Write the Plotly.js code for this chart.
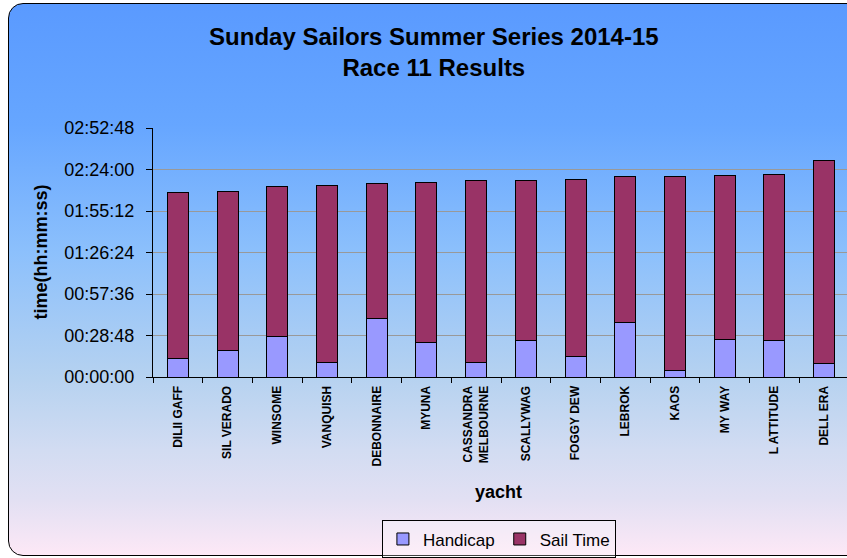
<!DOCTYPE html>
<html>
<head>
<meta charset="utf-8">
<script src="https://cdn.plot.ly/plotly-3.0.1.min.js"></script>
<style>
  html, body { margin:0; padding:0; width:847px; height:558px; overflow:hidden; background:#ffffff; }
  #frame {
    position:absolute; left:8px; top:3px; width:900px; height:553px;
    border:1.5px solid #000; border-radius:15px; box-sizing:border-box;
    background: linear-gradient(to bottom, #5a9aff 0%, #66a6ff 22%, #8cc0fc 45%, #b6d2f0 68%, #d2dcf2 81%, #e2e0f3 90%, #fde8f6 100%);
  }
  #chart { position:absolute; left:0; top:0; width:849px; height:558px; }
</style>
</head>
<body>
<div id="frame"></div>
<div id="chart"></div>
<script>
// yachts (categories)
const yachts = ["DILII GAFF","SIL VERADO","WINSOME","VANQUISH","DEBONNAIRE","MYUNA","CASSANDRA<br>MELBOURNE","SCALLYWAG","FOGGY DEW","LEBROK","KAOS","MY WAY","L ATTITUDE","DELL ERA"];
// values in minutes
const handicap = [12.5, 18.6, 27.8, 10.0, 40.3, 23.7, 10.0, 25.3, 14.1, 38.0, 4.2, 26.0, 25.3, 9.3];
const sailTime = [115.5, 110.1, 104.4, 123.1, 93.7, 111.0, 126.3, 111.0, 123.2, 100.9, 134.7, 113.8, 115.4, 140.7];
// y-axis ticks (minutes) and labels
const yTickVals = [0, 28.8, 57.6, 86.4, 115.2, 144.0, 172.8];
const yTickText = ["00:00:00","00:28:48","00:57:36","01:26:24","01:55:12","02:24:00","02:52:48"];

const FONT = '"Liberation Sans", Arial, sans-serif';

const traces = [
  { type:'bar', name:'Handicap', x:yachts, y:handicap,
    marker:{ color:'#9999ff', line:{ color:'#000', width:1 } } },
  { type:'bar', name:'Sail Time', x:yachts, y:sailTime,
    marker:{ color:'#993366', line:{ color:'#000', width:1 } } }
];

const layout = {
  width:849, height:558,
  paper_bgcolor:'rgba(0,0,0,0)', plot_bgcolor:'rgba(0,0,0,0)',
  margin:{ l:153, r:0, t:128, b:181, autoexpand:false },
  barmode:'stack', bargap:0.58,
  font:{ family:FONT, color:'#000' },
  title:{ text:'<b>Sunday Sailors Summer Series 2014-15<br>Race 11 Results</b>',
          font:{ family:FONT, size:24, color:'#000' },
          x:0.511, xref:'container', xanchor:'center', y:0.92, yref:'container', yanchor:'top' },
  xaxis:{ type:'category', automargin:false, tickangle:-90, tickson:'boundaries', ticks:'outside', ticklen:5, tickcolor:'#000',
          showline:true, linecolor:'#000', linewidth:1, showgrid:false,
          tickfont:{ family:FONT, size:12, color:'#000', weight:'bold' }, ticklabelstandoff:3 },
  yaxis:{ automargin:false, range:[0,172.8], tickvals:yTickVals, ticktext:yTickText, ticks:'outside', ticklen:6, tickcolor:'#000',
          showline:true, linecolor:'#000', linewidth:1, showgrid:true, gridcolor:'#999999', gridwidth:1,
          zeroline:false, tickfont:{ family:FONT, size:18, color:'#000' }, ticklabelstandoff:8 },
  showlegend:true,
  legend:{ orientation:'h', x:0.497, xanchor:'center', y:-0.576, yanchor:'top',
           bgcolor:'rgba(255,255,255,0.25)', bordercolor:'#000', borderwidth:1,
           font:{ family:FONT, size:17, color:'#000' }, traceorder:'normal', itemwidth:30 },
  annotations:[
    { text:'<b>time(hh:mm:ss)</b>', xref:'paper', yref:'paper', x:0, y:0.5, xanchor:'center', yanchor:'middle',
      xshift:-113, textangle:-90, showarrow:false, font:{ family:FONT, size:18, color:'#000' } },
    { text:'<b>yacht</b>', xref:'paper', yref:'paper', x:0.497, y:0, xanchor:'center', yanchor:'middle',
      yshift:-115, showarrow:false, font:{ family:FONT, size:18, color:'#000' } }
  ]
};

Plotly.newPlot('chart', traces, layout, { displayModeBar:false, staticPlot:true });
</script>
</body>
</html>
